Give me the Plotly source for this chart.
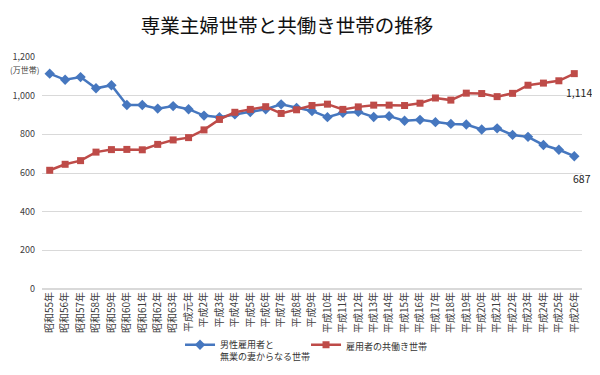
import plotly.graph_objects as go

years = ["昭和55年", "昭和56年", "昭和57年", "昭和58年", "昭和59年", "昭和60年", "昭和61年",
         "昭和62年", "昭和63年", "平成元年", "平成2年", "平成3年", "平成4年", "平成5年",
         "平成6年", "平成7年", "平成8年", "平成9年", "平成10年", "平成11年", "平成12年",
         "平成13年", "平成14年", "平成15年", "平成16年", "平成17年", "平成18年", "平成19年",
         "平成20年", "平成21年", "平成22年", "平成23年", "平成24年", "平成25年", "平成26年"]

single_income = [1114, 1082, 1096, 1038, 1054, 952, 952, 933, 946, 930, 897, 888, 903, 915,
                 930, 955, 937, 921, 889, 912, 916, 890, 894, 870, 875, 863, 854, 851, 825,
                 831, 797, 787, 745, 720, 687]
dual_income = [614, 645, 664, 708, 721, 722, 720, 748, 771, 783, 823, 877, 914, 929, 943,
               908, 927, 949, 956, 929, 942, 951, 951, 949, 961, 988, 977, 1013, 1011, 995,
               1012, 1054, 1065, 1077, 1114]

name_single = "男性雇用者と<br>無業の妻からなる世帯"
name_dual = "雇用者の共働き世帯"

FONT = "Noto Sans CJK JP"
BLUE = "#4677BF"
RED = "#BE4B48"

fig = go.Figure()
fig.add_trace(go.Scatter(
    x=years, y=single_income, name=name_single, mode="lines+markers",
    line=dict(color=BLUE, width=2.5),
    marker=dict(symbol="diamond", size=8, color=BLUE),
    legend="legend",
))
fig.add_trace(go.Scatter(
    x=years, y=dual_income, name=name_dual, mode="lines+markers",
    line=dict(color=RED, width=2.5),
    marker=dict(symbol="square", size=7, color=RED),
    legend="legend2",
))

fig.add_annotation(x=years[-1], y=dual_income[-1], text=f"{dual_income[-1]:,}",
                   showarrow=False, xanchor="center", yanchor="top", xshift=5, yshift=-9,
                   font=dict(family=FONT, size=10.5, color="#222222"))
fig.add_annotation(x=years[-1], y=single_income[-1], text=f"{single_income[-1]:,}",
                   showarrow=False, xanchor="center", yanchor="top", xshift=8, yshift=-13,
                   font=dict(family=FONT, size=10.5, color="#222222"))
fig.add_annotation(xref="paper", yref="paper", x=-0.063, y=0.947, text="(万世帯)",
                   showarrow=False, xanchor="left", yanchor="middle",
                   font=dict(family=FONT, size=8, color="#404040"))

legend_common = dict(orientation="v", xref="container", yref="container",
                     y=0.135, xanchor="left", yanchor="top", valign="top",
                     font=dict(family=FONT, size=9, color="#333333"),
                     itemwidth=30, bgcolor="rgba(0,0,0,0)")

fig.update_layout(
    width=600, height=375,
    paper_bgcolor="white", plot_bgcolor="white",
    margin=dict(l=34, r=26, t=49, b=94, autoexpand=False),
    title=dict(text="専業主婦世帯と共働き世帯の推移", x=0.465, xanchor="center",
               xref="container", yref="container", y=0.952, yanchor="middle",
               font=dict(family=FONT, size=19.5, color="#111111")),
    font=dict(family=FONT, size=9, color="#404040"),
    showlegend=True,
    legend=dict(x=0.2867, **legend_common),
    legend2=dict(x=0.4967, **legend_common),
    xaxis=dict(type="category", range=[-0.5, len(years) - 0.5], tickangle=-90,
               showgrid=False, showline=False, automargin=False,
               ticks="", tickfont=dict(family=FONT, size=10, color="#404040")),
    yaxis=dict(range=[0, 1200], dtick=200, tickformat=",", showgrid=True,
               automargin=False, ticklabelstandoff=6,
               gridcolor="#d9d9d9", gridwidth=1, zeroline=True, zerolinecolor="#d9d9d9",
               zerolinewidth=1.5, ticks="", showline=False,
               tickfont=dict(family=FONT, size=9, color="#404040")),
)

fig.write_html("out.html")
